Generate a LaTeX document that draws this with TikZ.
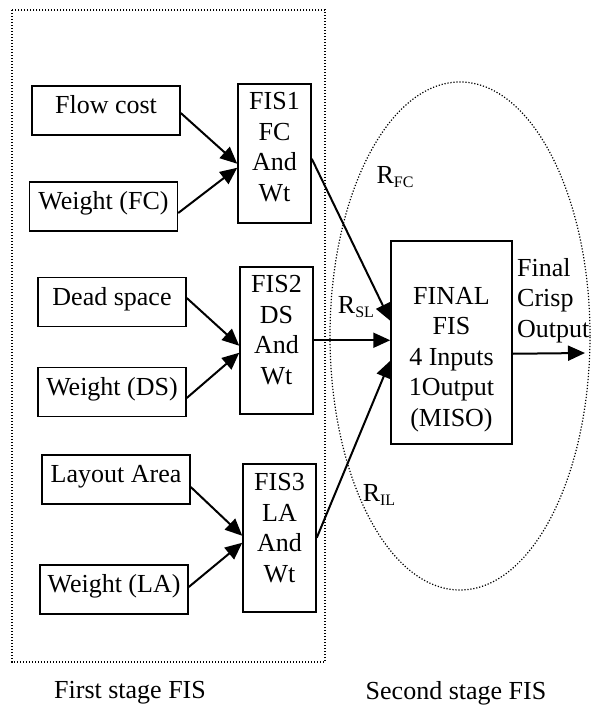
\documentclass[tikz,border=0pt]{standalone}
\usepackage{fontspec}
\setmainfont{Liberation Serif}
\usepackage{tikz}
\usetikzlibrary{arrows.meta,positioning}

\newcommand{\rsub}[1]{R\raisebox{-4pt}{\fontsize{16}{16}\selectfont #1}}

\begin{document}
\begin{tikzpicture}[x=1pt,y=-1pt,>={Triangle[length=17pt,width=15pt]},
  font=\fontsize{26}{30.5}\selectfont,
  inbox/.style={draw,line width=1.5pt,minimum width=148pt,minimum height=49pt,
    text height=22pt,text depth=16pt,inner sep=0pt},
  fisbox/.style={draw,line width=1.5pt,align=center,minimum width=73pt,
    text height=114.6pt,inner sep=3pt,anchor=north},
  stagebox/.style={line width=1.2pt,dash pattern=on 1.2pt off 1.8pt},
  link/.style={->,line width=2pt}]
  \useasboundingbox (0,0) rectangle (594,707);

  % the two stages
  \draw[stagebox] (12,10) rectangle (325,662);
  \draw[stagebox] (460,336) ellipse [x radius=130pt, y radius=254pt];

  % inputs
  \node[inbox] (fc) at (106,110.5) {Flow cost};
  \node[inbox] (wfc) at (103.5,206.5) {Weight (FC)};
  \node[inbox] (ds) at (112,302) {Dead space};
  \node[inbox] (wds) at (112,392) {Weight (DS)};
  \node[inbox] (la) at (116,479.5) {Layout Area};
  \node[inbox] (wla) at (114,589.5) {Weight (LA)};

  % first stage FIS
  \node[fisbox,text depth=18.4pt] (fis1) at (274.5,83) {FIS1\\FC\\And\\Wt};
  \node[fisbox,text depth=26.4pt] (fis2) at (276.5,266) {FIS2\\DS\\And\\Wt};
  \node[fisbox,text height=115.6pt,text depth=26.4pt] (fis3) at (279.5,463) {FIS3\\LA\\And\\Wt};

  % second stage FIS
  \node[fisbox,minimum width=121pt,text height=182.6pt,text depth=14.4pt] (final)
    at (451.5,240) {FINAL\\FIS\\4 Inputs\\1Output\\(MISO)};
  \node[align=left,anchor=west,inner sep=0pt] (crisp) at (517,300.5) {Final\\Crisp\\Output};
  \coordinate (crispout) at (585,353);

  \node[inner sep=0pt] (rfc) at (395,177) {\rsub{FC}};
  \node[inner sep=0pt] (rsl) at (356,307) {\rsub{SL}};
  \node[inner sep=0pt] (ril) at (379,495) {\rsub{IL}};

  \node (first) at (130,693) {First stage FIS};
  \node (second) at (456,693) {Second stage FIS};

  \path[link]
  ([yshift=-2.5pt]fc.east) edge ([yshift=-10.5pt]fis1.west)
  ([yshift=-6.5pt]wfc.east) edge ([yshift=-14.5pt]fis1.west)
  ([yshift=4pt]ds.east) edge ([yshift=-5.5pt]fis2.west)
  ([yshift=-6pt]wds.east) edge ([yshift=-12.5pt]fis2.west)
  ([yshift=-7.5pt]la.east) edge ([yshift=2pt]fis3.west)
  ([yshift=2.5pt]wla.east) edge ([yshift=-5pt]fis3.west)
  ([yshift=-5.5pt]fis1.east) edge ([yshift=21.5pt]final.west)
  (fis2.east) edge (fis2.east -| final.west)
  (fis3.east) edge ([yshift=-18.5pt]final.west)
  ([yshift=-11.5pt]final.east) edge (crispout)
  ;
\end{tikzpicture}
\end{document}
